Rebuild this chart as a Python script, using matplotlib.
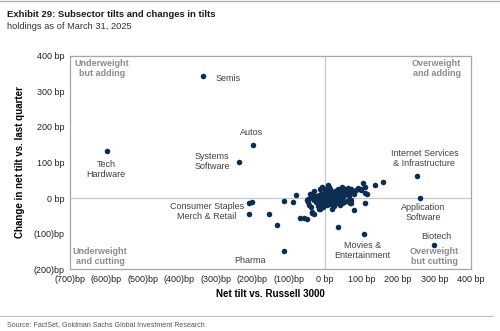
import matplotlib.pyplot as plt

plt.rcParams['font.family'] = ['Liberation Sans', 'DejaVu Sans']

# labelled subsectors (net tilt bp, change bp)
named = ['Semis', 'Tech\nHardware', 'Systems\nSoftware', 'Autos',
         'Internet Services\n& Infrastructure', 'Application\nSoftware',
         'Biotech', 'Movies &\nEntertainment', 'Pharma',
         'Consumer Staples\nMerch & Retail']
named_x = [-335, -599, -237, -199, 253, 261, 299, 107, -114, -210]
named_y = [343, 132, 101, 148, 62, 1, -131, -100, -149, -46]

# where each label sits (data coords) and alignment
lab_x = [-302, -601, -310, -203, 272, 269, 305, 102, -206, -324]
lab_y = [337, 80, 103, 184, 111, -41, -108, -148, -176, -38]
lab_ha = ['left', 'center', 'center', 'center', 'center', 'center',
          'center', 'center', 'center', 'center']

# remaining subsectors
other_x = [-208, -201, -153, -131, -114, -89, -80, -69, -59, -50, -32, -16,
           34, 78, 108, 114, 108, 105, 98, 138, 158, 69, 18, 9, -8, -41, -46,
           -37, 110, 99, 71, -35, -14,
           -40, -35, -30, -28, -25, -22, -20, -18, -15, -12, -10, -8, -5, -3,
           0, 2, 4, 6, 8, 10, 12, 14, 16, 18, 20, 22, 24, 26, 28, 30, 32, 34,
           36, 38, 40, 42, 44, 46, 48, 50, 52, 55, 58, 60, 62, 65, 68, 70, 72,
           75, 80, 85, 90, -45, -38, -20, -10, 5, 15, 25, 35, -32, -5, 40,
           -50, -46, 0, 10, -15, 45, 60]
other_y = [-13, -12, -44, -77, -7, -10, 8, -56, -56, -58, -46, -32,
           -82, -34, -15, 12, 30, 43, 25, 36, 46, -14, -30, 37, 30, 10, -4,
           -38, 15, 22, -14, -42, -32,
           10, 0, -5, 5, -10, 2, -15, 8, -5, 12, 0, -8, 5, 15,
           -3, 8, -12, 20, 3, -6, 12, 25, -2, 6, 16, -8, 10, 20, 0, -15, 8, 18,
           26, 5, -5, 12, 22, 30, 2, 15, -10, 25, 10, 20, 28, 5, 15, 25, -5,
           18, 10, 22, 28, -20, -25, -22, -18, -20, -18, -22, -12, 20, -25, -20,
           -5, -12, 25, 30, 25, -15, -8]

quad_text = ['Underweight\nbut adding', 'Overweight\nand adding',
             'Underweight\nand cutting', 'Overweight\nbut cutting']
quad_x = [-612, 373, -617, 299]
quad_y = [365, 365, -165, -165]
quad_ha = ['center', 'right', 'center', 'center']

xticks = list(range(-700, 401, 100))
yticks = list(range(-200, 401, 100))


def bp(v):
    return f'({abs(v)})bp' if v < 0 else f'{v} bp'


fig = plt.figure(figsize=(5, 3.31), dpi=100)
ax = fig.add_axes([0.14, 0.187, 0.802, 0.644])

dot = '#0e2d52'
ax.axhline(0, color='#c8c8c8', lw=0.9, zorder=1)
ax.axvline(0, color='#c8c8c8', lw=0.9, zorder=1)
ax.scatter(other_x, other_y, s=16, color=dot, zorder=3, linewidths=0)
ax.scatter(named_x, named_y, s=16, color=dot, zorder=3, linewidths=0)

for t, x, y, ha in zip(named, lab_x, lab_y, lab_ha):
    ax.text(x, y, t, ha=ha, va='center', fontsize=6.5, color='#404040',
            linespacing=1.15, zorder=4)
for t, x, y, ha in zip(quad_text, quad_x, quad_y, quad_ha):
    ax.text(x, y, t, ha=ha, va='center', fontsize=6.5, color='#8c8c8c',
            fontweight='bold', linespacing=1.1, zorder=4)

ax.set_xlim(-700, 400)
ax.set_ylim(-200, 400)
ax.set_xticks(xticks)
ax.set_xticklabels([bp(v) for v in xticks])
ax.set_yticks(yticks)
ax.set_yticklabels([bp(v) for v in yticks])
ax.tick_params(length=0, labelsize=6.5, colors='#222222', pad=4)
for s in ax.spines.values():
    s.set_color('#a6a6a6')
    s.set_linewidth(0.9)

ax.set_xlabel('Net tilt vs. Russell 3000', fontsize=7, fontweight='bold',
              labelpad=4)
ax.set_ylabel('Change in net tilt vs. last quarter', fontsize=7,
              fontweight='bold', labelpad=6)

fig.add_artist(plt.Line2D([0.0, 1.0], [0.997, 0.997], color='#b0b0b0', lw=1))
fig.text(0.014, 0.957, 'Exhibit 29: Subsector tilts and changes in tilts',
         fontsize=6.8, fontweight='bold', color='#1a1a1a', va='center')
fig.text(0.014, 0.92, 'holdings as of March 31, 2025', fontsize=6.7,
         color='#333333', va='center')
fig.add_artist(plt.Line2D([0.0, 0.985], [0.046, 0.046], color='#c0c0c0', lw=0.8))
fig.text(0.014, 0.018, 'Source: FactSet, Goldman Sachs Global Investment Research',
         fontsize=5.1, color='#555555', va='center')

fig.savefig('out.png', dpi=100)
